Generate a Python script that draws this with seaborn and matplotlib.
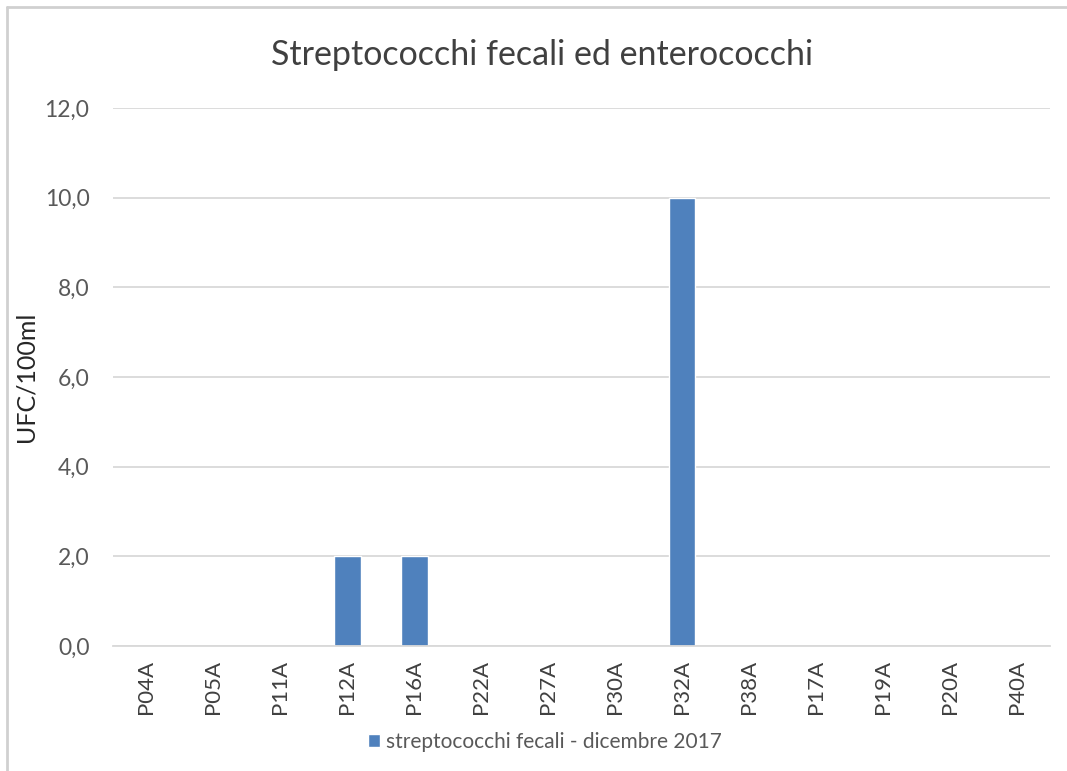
import matplotlib
matplotlib.use("Agg")
import matplotlib.pyplot as plt
from matplotlib.lines import Line2D
import seaborn as sns
import pandas as pd

# Sampling points and measured values (UFC/100ml)
stations = ["P04A", "P05A", "P11A", "P12A", "P16A", "P22A", "P27A",
            "P30A", "P32A", "P38A", "P17A", "P19A", "P20A", "P40A"]
values = [0, 0, 0, 2, 2, 0, 0, 0, 10, 0, 0, 0, 0, 0]
series_name = "streptococchi fecali - dicembre 2017"
y_ticks = [0, 2, 4, 6, 8, 10, 12]

df = pd.DataFrame({"stazione": stations, "valore": values, "serie": series_name})

sns.set_theme(style="white")
plt.rcParams["font.family"] = ["Lato", "DejaVu Sans"]

bar_color = "#4F81BD"
text_color = "#595959"
grid_color = "#D9D9D9"

fig = plt.figure(figsize=(10.67, 7.71), dpi=100)
ax = fig.add_axes([113 / 1067, 1 - 646 / 771, 937 / 1067, 538 / 771])

sns.barplot(data=df, x="stazione", y="valore", hue="serie", palette=[bar_color],
            width=0.4, ax=ax, legend=True, saturation=1)

ax.set_ylim(0, 12)
ax.set_yticks(y_ticks)
ax.set_yticklabels([f"{v:.1f}".replace(".", ",") for v in y_ticks],
                   fontsize=16.5, color=text_color)
ax.set_xlim(-0.5, len(stations) - 0.5)
ax.set_xticks(range(len(stations)))
ax.set_xticklabels(stations, rotation=90, fontsize=16, color="#404040")
ax.tick_params(axis="y", length=0, pad=17)
ax.tick_params(axis="x", length=0, pad=10)

ax.yaxis.grid(True, color=grid_color, linewidth=1.3)
ax.set_axisbelow(True)
for side in ["top", "right", "left"]:
    ax.spines[side].set_visible(False)
ax.spines["bottom"].set_color(grid_color)
ax.spines["bottom"].set_linewidth(1.3)

ax.set_xlabel("")
ax.set_ylabel("UFC/100ml", fontsize=18, color="#262626")
ax.yaxis.set_label_coords(-76 / 937, 0.5)

fig.text(542 / 1067, 1 - 55 / 771, "Streptococchi fecali ed enterococchi",
         ha="center", va="center", fontsize=24.5, color="#404040")

leg = ax.legend(loc="center", bbox_to_anchor=(545 / 1067, 1 - 742 / 771),
                bbox_transform=fig.transFigure, frameon=False, fontsize=15,
                handlelength=0.6, handleheight=0.6, handletextpad=0.3)
for t in leg.get_texts():
    t.set_color(text_color)

# Chart frame border (left and top edges)
fig.add_artist(Line2D([7 / 1067, 7 / 1067], [0, 1 - 7 / 771],
                      transform=fig.transFigure, color="#D0D0D0", linewidth=2))
fig.add_artist(Line2D([7 / 1067, 1], [1 - 7 / 771, 1 - 7 / 771],
                      transform=fig.transFigure, color="#D0D0D0", linewidth=2))

fig.savefig("out.png", dpi=100, facecolor="white")
